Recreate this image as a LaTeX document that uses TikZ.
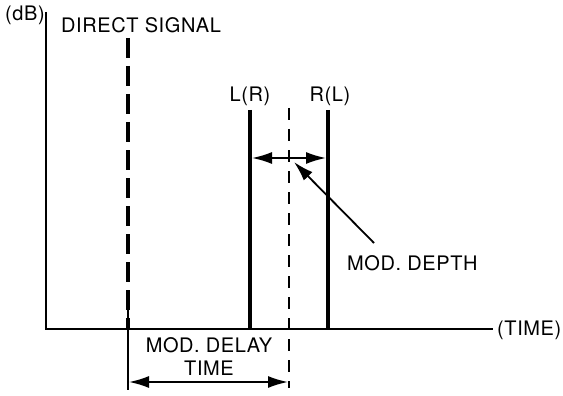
\documentclass[tikz,border=0pt]{standalone}
\usepackage{fontspec}
\setmainfont[LetterSpace=3]{TeX Gyre Heros}
\usetikzlibrary{arrows.meta}
\begin{document}
\begin{tikzpicture}[x=1pt,y=-1pt,
  lbl/.style={font=\fontsize{20}{23}\selectfont, inner sep=0pt},
  axis/.style={line width=2.8pt},
  chan/.style={line width=4.5pt},
  direct/.style={line width=3.2pt, dash pattern=on 20pt off 8pt},
  center/.style={line width=1.8pt, dash pattern=on 12pt off 9pt},
  dimarrow/.style={line width=1.8pt, {Latex[length=20pt,width=12pt]}-{Latex[length=20pt,width=12pt]}},
  pointer/.style={line width=1.8pt, -{Latex[length=20pt,width=12pt]}}]
\useasboundingbox (0,0) rectangle (563,396);
% axes
\coordinate (o) at (46,329);
\coordinate (ytop) at (46,12);
\coordinate (xend) at (493,329);
\draw[axis] (ytop) -- (o) -- (xend);
\node[lbl, anchor=west] (db) at (5,15) {(dB)};
\node[lbl, anchor=west] (time) at (497,330) {(TIME)};
% direct signal
\node[lbl, anchor=west] (ds) at (61,25) {DIRECT SIGNAL};
\coordinate (dtop) at (128,38);
\coordinate (dbot) at (128,329);
\coordinate (dext) at (128,390);
\draw[direct] (dtop) -- (dbot);
\draw[line width=1.8pt] (128,305) -- (dext);
% channels
\coordinate (ltop) at (250,110);
\coordinate (lbot) at (250,329);
\coordinate (rtop) at (328,110);
\coordinate (rbot) at (328,329);
\draw[chan] (ltop) -- (lbot);
\draw[chan] (rtop) -- (rbot);
\node[lbl, anchor=south] (lr) at (250,106) {L(R)};
\node[lbl, anchor=south] (rl) at (330,106) {R(L)};
% center dashed
\coordinate (ctop) at (289,108);
\coordinate (cbot) at (289,388);
\draw[center] (ctop) -- (cbot);
% depth arrow
\coordinate (da) at (252,158);
\coordinate (db2) at (326,158);
\draw[dimarrow] (da) -- (db2);
\node[lbl, anchor=west] (depth) at (347,263) {MOD. DEPTH};
\coordinate (pstart) at (374,243);
\coordinate (pend) at (294,162);
\draw[pointer] (pstart) -- (pend);
% delay
\node[lbl, align=center] (delay) at (209,357) {MOD. DELAY\\TIME};
\coordinate (ea) at (129,382);
\coordinate (eb) at (288,382);
\draw[dimarrow] (ea) -- (eb);
\end{tikzpicture}
\end{document}
